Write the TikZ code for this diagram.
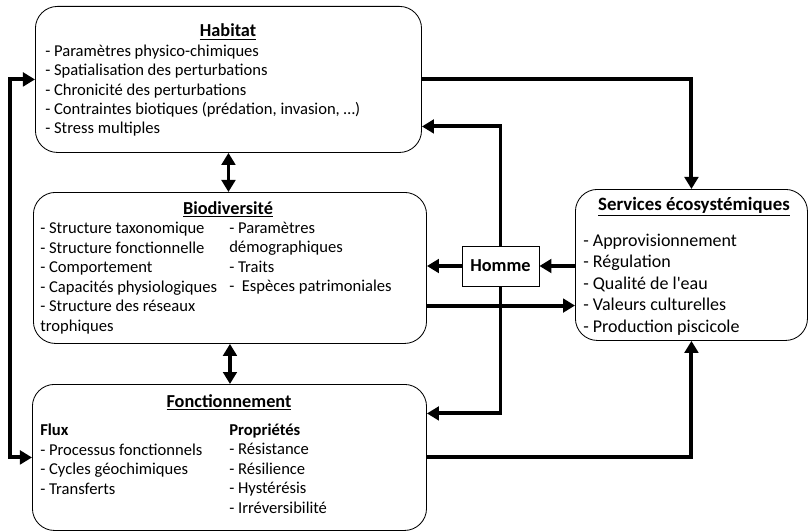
\documentclass[tikz,border=0pt]{standalone}
\usepackage{fontspec}
\setmainfont{Carlito}
\usetikzlibrary{arrows.meta, positioning}
\tikzset{
		bloc/.style={draw, rounded corners=0.55cm, line width=0.6pt, anchor=north west, inner sep=0pt},
		titre/.style={font=\fontsize{13}{15}\selectfont\bfseries, anchor=base, inner sep=0pt},
		liste/.style={font=\fontsize{11.8}{13.8}\selectfont, align=left, anchor=base west, inner sep=0pt},
		fleche/.style={line width=2.8pt}
	}
\begin{document}
\begin{tikzpicture}[x=0.025cm, y=-0.025cm, >={Triangle[length=0.3cm,width=0.34cm]}]
	\useasboundingbox (0,0) rectangle (808,532);

	\node[bloc, minimum width=9.65cm, minimum height=3.65cm]  (habitat)  at (35,6)   {};
	\node[bloc, minimum width=9.825cm, minimum height=3.775cm] (biodiv)  at (33,192) {};
	\node[bloc, minimum width=9.85cm, minimum height=3.65cm]  (fonct)    at (32,384) {};
	\node[bloc, minimum width=5.8cm, minimum height=3.775cm]  (services) at (575,189) {};
	\node[draw, fill=white, line width=0.6pt, minimum width=1.925cm, minimum height=1cm,
		font=\fontsize{13}{15}\selectfont\bfseries] (homme) at (500.5,266) {Homme};

	% les listes sont placees par la ligne de base de leur derniere ligne
	\node[titre] (t-hab) at (228,37) {\underline{Habitat}};
	\node[liste] (l-hab) at (45,134) {- Paramètres physico-chimiques\\- Spatialisation des perturbations\\- Chronicité des perturbations\\- Contraintes biotiques (prédation, invasion, …)\\- Stress multiples};

	\node[titre] (t-bio) at (228,214) {\underline{Biodiversité}};
	\node[liste] (l-bio1) at (40,331) {- Structure taxonomique\\- Structure fonctionnelle\\- Comportement\\- Capacités physiologiques\\- Structure des réseaux\\trophiques};
	\node[liste] (l-bio2) at (229,291.5) {- Paramètres\\démographiques\\- Traits\\- \ Espèces patrimoniales};

	\node[titre] (t-fon) at (229,407) {\underline{Fonctionnement}};
	\node[liste] (l-fon1) at (40,494) {\textbf{Flux}\\- Processus fonctionnels\\- Cycles géochimiques\\- Transferts};
	\node[liste] (l-fon2) at (229,513) {\textbf{Propriétés}\\- Résistance\\- Résilience\\- Hystérésis\\- Irréversibilité};

	\node[titre, font=\fontsize{13.4}{15}\selectfont\bfseries] (t-ser) at (694,210) {\underline{Services écosystémiques}};
	\node[liste, font=\fontsize{12.8}{15.2}\selectfont] (l-ser) at (583,332) {- Approvisionnement\\- Régulation\\- Qualité de l\textquotesingle eau\\- Valeurs culturelles\\- Production piscicole};

	\coordinate (gauche) at (10,0);
	\draw[fleche, <->] (habitat.south) -- (habitat.south |- biodiv.north);
	\draw[fleche, <->] (biodiv.south) -- (biodiv.south |- fonct.north);
	\draw[fleche, <->] (habitat.west) -- (habitat.west -| gauche) -- (fonct.west -| gauche) -- (fonct.west);
	\draw[fleche, ->] (habitat.east) -| (services.north);
	\draw[fleche, ->] (homme.north) |- ([yshift=-1.175cm]habitat.east);
	\draw[fleche, ->] (homme.west) -- (homme.west -| biodiv.east);
	\draw[fleche, ->] (homme.east -| services.west) -- (homme.east);
	\draw[fleche, ->] ([yshift=-0.94cm]biodiv.east) -- ([yshift=-0.94cm]biodiv.east -| services.west);
	\draw[fleche, ->] (homme.south) |- ([yshift=1.1cm]fonct.east);
	\draw[fleche, ->] (fonct.east) -| (services.south);
\end{tikzpicture}
\end{document}
